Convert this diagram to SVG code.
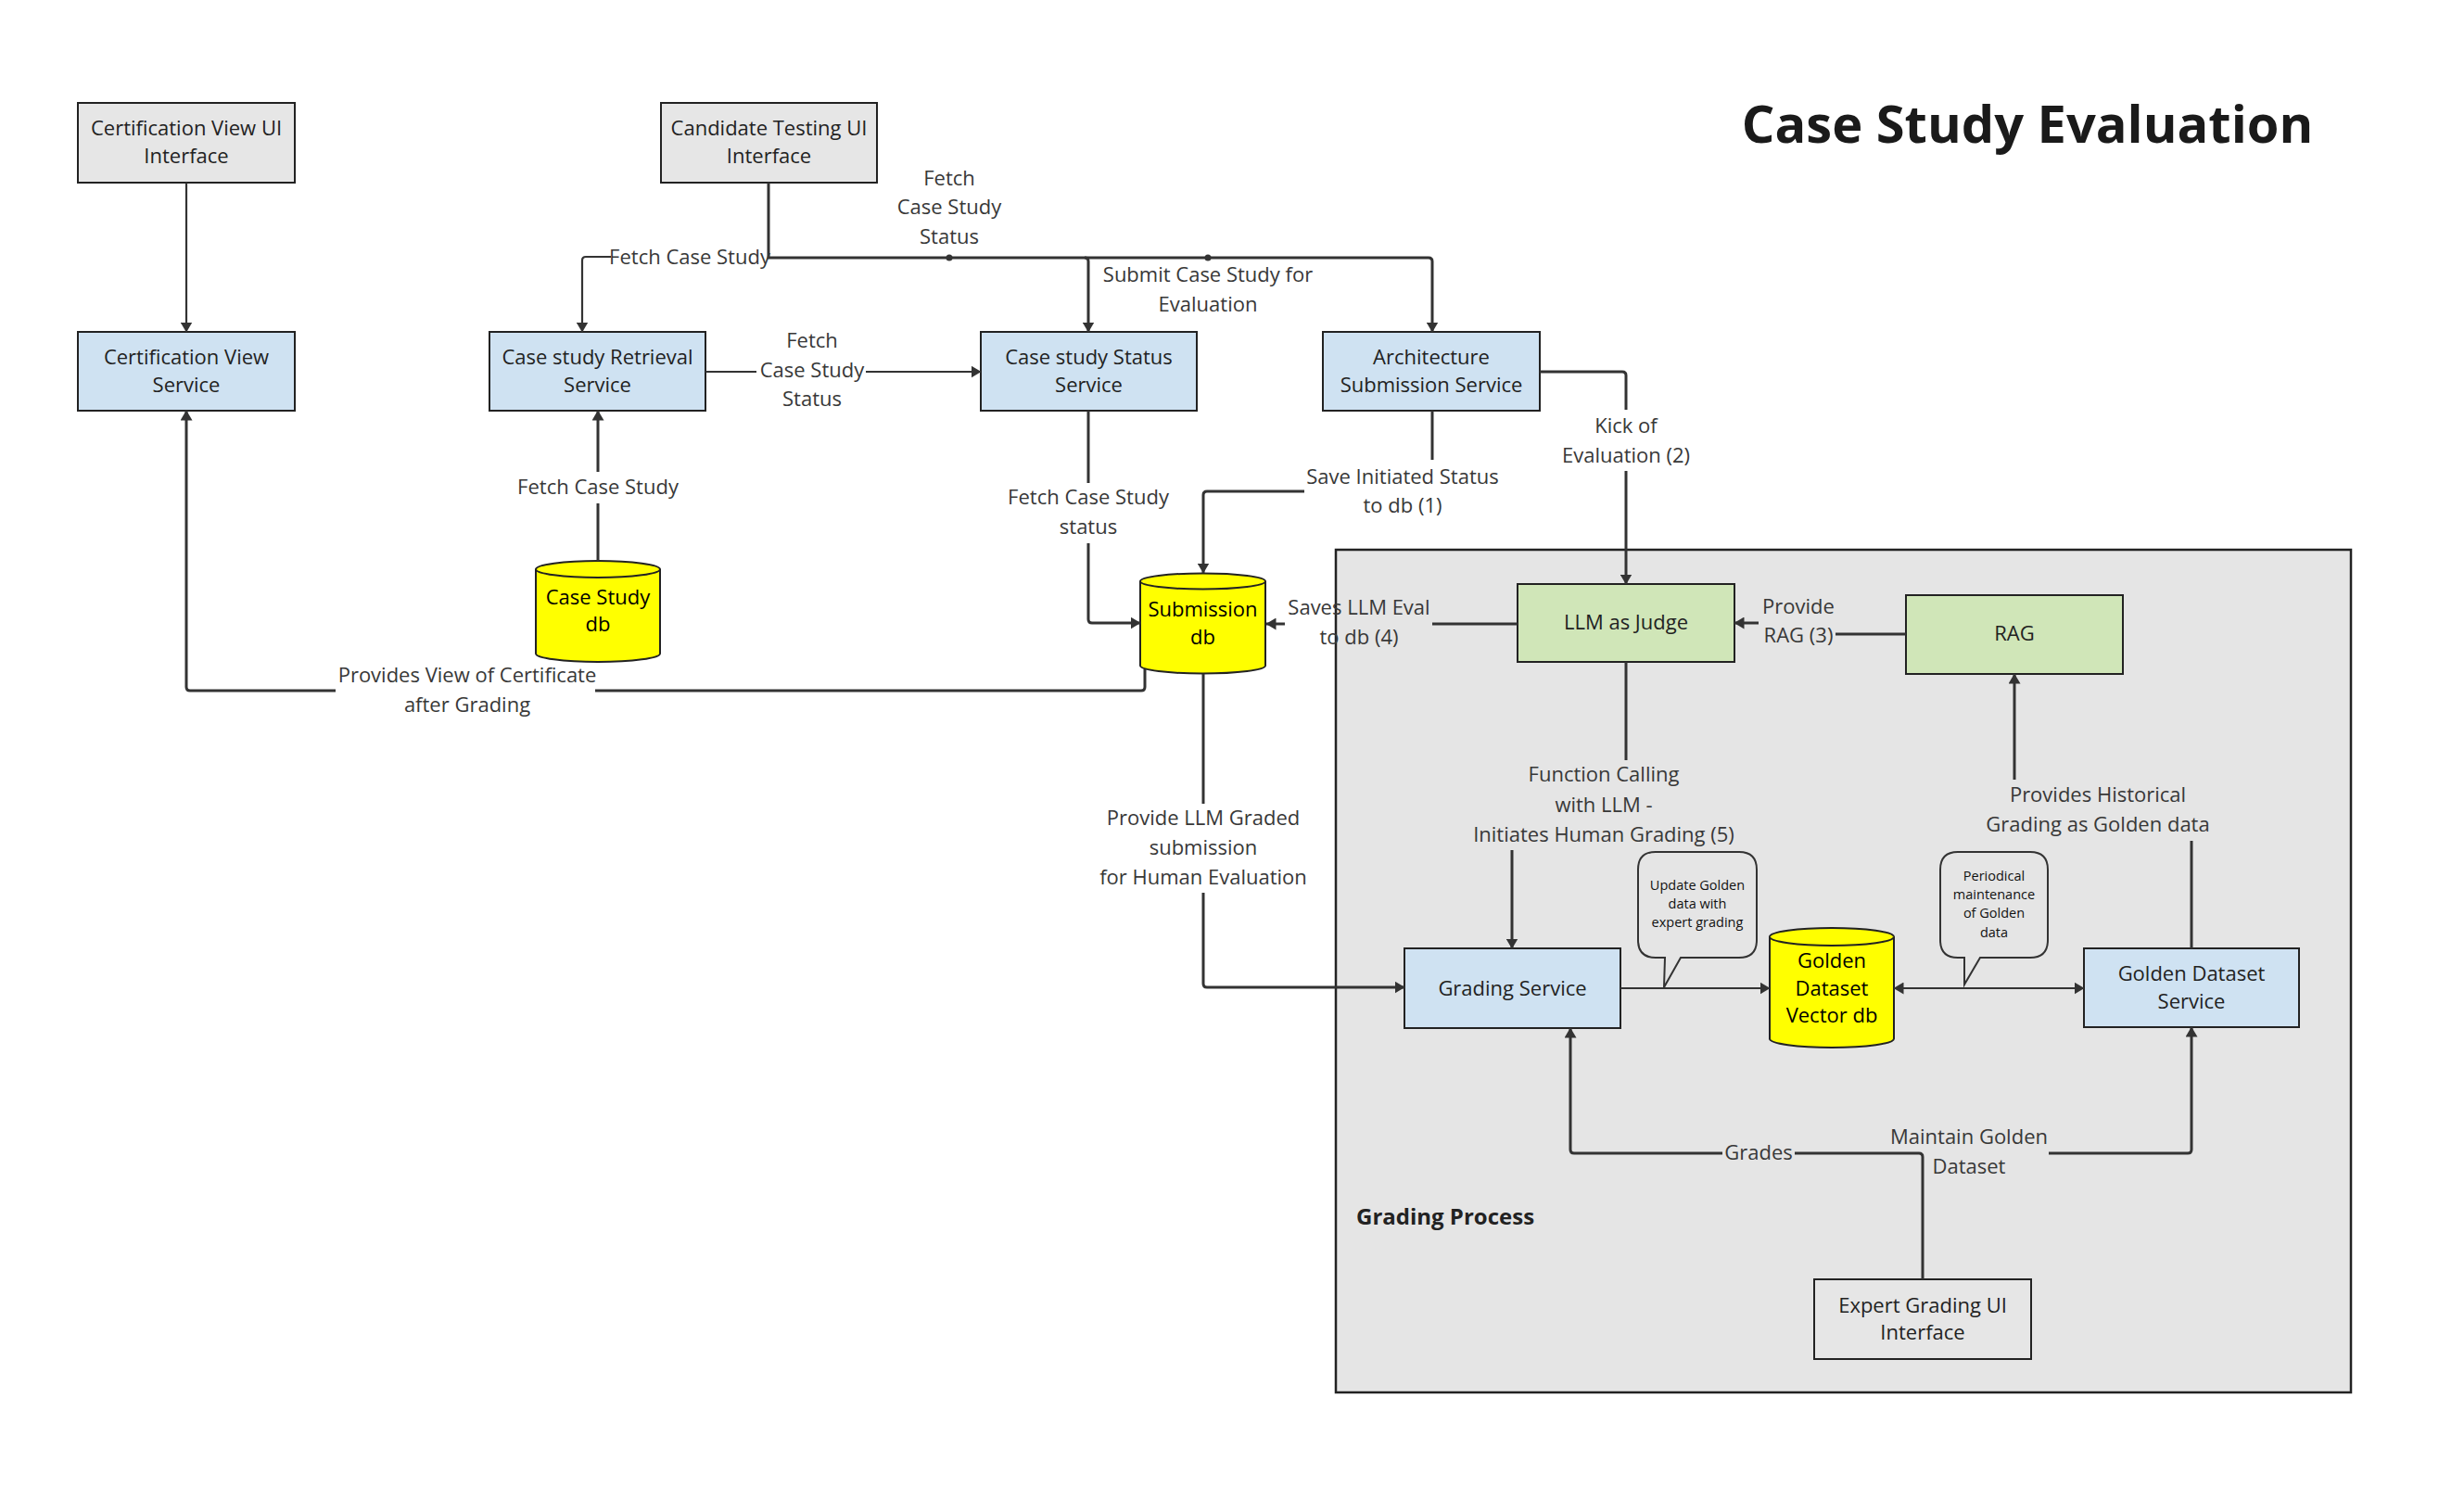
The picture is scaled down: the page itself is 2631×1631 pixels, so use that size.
<svg xmlns="http://www.w3.org/2000/svg" width="2631" height="1631" viewBox="0 0 2631 1631">
<style>
.bg{fill:#ffffff}
.box{stroke:#222;stroke-width:2}
.ui{fill:#e6e6e6}
.svc{fill:#cfe2f2}
.grn{fill:#d0e6b8}
.db{fill:#ffff00;stroke:#222;stroke-width:2}
.grp{fill:#e5e5e5;stroke:#222;stroke-width:2.5}
.call{fill:#e5e5e5;stroke:#333;stroke-width:2}
.nt{font-family:"Open Sans","Liberation Sans",sans-serif;font-size:22px;fill:#222;text-anchor:middle}
.dt{font-family:"Open Sans","Liberation Sans",sans-serif;font-size:22px;fill:#000;text-anchor:middle}
.lb{font-family:"Open Sans","Liberation Sans",sans-serif;font-size:22px;fill:#383838;text-anchor:middle}
.ct{font-family:"Open Sans","Liberation Sans",sans-serif;font-size:14.5px;fill:#111;text-anchor:middle}
.ttl{font-family:"Open Sans","Liberation Sans",sans-serif;font-size:56px;font-weight:bold;fill:#1a1a1a;text-anchor:middle}
.gp{font-family:"Open Sans","Liberation Sans",sans-serif;font-size:24px;font-weight:bold;fill:#222}
.c{fill:none;stroke:#333;stroke-width:3}
.t{fill:none;stroke:#333;stroke-width:2.2}
.a{marker-end:url(#ah)}
</style>
<defs>
<marker id="ah" viewBox="0 0 11 13" refX="10.5" refY="6.5" markerWidth="11" markerHeight="13" markerUnits="userSpaceOnUse" orient="auto-start-reverse">
<path d="M0,0 L11,6.5 L0,13 z" fill="#333"/>
</marker>
</defs>
<rect class="bg" x="0" y="0" width="2631" height="1631"/>

<text class="ttl" x="2187" y="154">Case Study Evaluation</text>

<g id="grading-process">
<rect class="grp" x="1441" y="593" width="1095" height="909"/>
<text class="gp" x="1463" y="1321">Grading Process</text>
</g>

<g id="cert-ui">
<rect class="box ui" x="84" y="111" width="234" height="86"/>
<text class="nt" x="201" y="146">Certification View UI</text>
<text class="nt" x="201" y="176">Interface</text>
</g>
<g id="candidate-ui">
<rect class="box ui" x="713" y="111" width="233" height="86"/>
<text class="nt" x="829.5" y="146">Candidate Testing UI</text>
<text class="nt" x="829.5" y="176">Interface</text>
</g>
<g id="cert-service">
<rect class="box svc" x="84" y="358" width="234" height="85"/>
<text class="nt" x="201" y="393">Certification View</text>
<text class="nt" x="201" y="423">Service</text>
</g>
<g id="retrieval-service">
<rect class="box svc" x="528" y="358" width="233" height="85"/>
<text class="nt" x="644.5" y="393">Case study Retrieval</text>
<text class="nt" x="644.5" y="423">Service</text>
</g>
<g id="status-service">
<rect class="box svc" x="1058" y="358" width="233" height="85"/>
<text class="nt" x="1174.5" y="393">Case study Status</text>
<text class="nt" x="1174.5" y="423">Service</text>
</g>
<g id="architecture-service">
<rect class="box svc" x="1427" y="358" width="234" height="85"/>
<text class="nt" x="1544" y="393">Architecture</text>
<text class="nt" x="1544" y="423">Submission Service</text>
</g>
<g id="case-study-db">
<path class="db" d="M578,614 A67,9 0 0 1 712,614 V705 A67,9 0 0 1 578,705 Z"/>
<path class="db" d="M578,614 A67,9 0 0 0 712,614" fill="none"/>
<text class="dt" x="645" y="652">Case Study</text>
<text class="dt" x="645" y="681">db</text>
</g>
<g id="submission-db">
<path class="db" d="M1230,627 A67.5,8.5 0 0 1 1365,627 V718 A67.5,8.5 0 0 1 1230,718 Z"/>
<path class="db" d="M1230,627 A67.5,8.5 0 0 0 1365,627" fill="none"/>
<text class="dt" x="1297.5" y="665">Submission</text>
<text class="dt" x="1297.5" y="695">db</text>
</g>
<g id="llm-judge">
<rect class="box grn" x="1637" y="630" width="234" height="84"/>
<text class="nt" x="1754" y="679">LLM as Judge</text>
</g>
<g id="rag">
<rect class="box grn" x="2056" y="642" width="234" height="85"/>
<text class="nt" x="2173" y="691">RAG</text>
</g>
<g id="grading-service">
<rect class="box svc" x="1515" y="1023" width="233" height="86"/>
<text class="nt" x="1631.5" y="1074">Grading Service</text>
</g>
<g id="golden-db">
<path class="db" d="M1909,1010.5 A67,9.5 0 0 1 2043,1010.5 V1120.5 A67,9.5 0 0 1 1909,1120.5 Z"/>
<path class="db" d="M1909,1010.5 A67,9.5 0 0 0 2043,1010.5" fill="none"/>
<text class="dt" x="1976" y="1044">Golden</text>
<text class="dt" x="1976" y="1074">Dataset</text>
<text class="dt" x="1976" y="1103">Vector db</text>
</g>
<g id="golden-service">
<rect class="box svc" x="2248" y="1023" width="232" height="85"/>
<text class="nt" x="2364" y="1058">Golden Dataset</text>
<text class="nt" x="2364" y="1088">Service</text>
</g>
<g id="expert-ui">
<rect class="box ui" x="1957" y="1380" width="234" height="86"/>
<text class="nt" x="2074" y="1416">Expert Grading UI</text>
<text class="nt" x="2074" y="1445">Interface</text>
</g>
<g id="callout-update">
<path class="call" d="M1786,919 H1876 Q1895,919 1895,938 V1014 Q1895,1033 1876,1033 H1813 L1795,1065 L1796,1033 H1786 Q1767,1033 1767,1014 V938 Q1767,919 1786,919 Z"/>
<text class="ct" x="1831" y="960">Update Golden</text>
<text class="ct" x="1831" y="980">data with</text>
<text class="ct" x="1831" y="1000">expert grading</text>
</g>
<g id="callout-periodical">
<path class="call" d="M2112,919 H2190 Q2209,919 2209,938 V1014 Q2209,1033 2190,1033 H2136 L2119,1062 L2119,1033 H2112 Q2093,1033 2093,1014 V938 Q2093,919 2112,919 Z"/>
<text class="ct" x="2151" y="950">Periodical</text>
<text class="ct" x="2151" y="970">maintenance</text>
<text class="ct" x="2151" y="990">of Golden</text>
<text class="ct" x="2151" y="1011">data</text>
</g>

<g id="connectors">
<path class="t a" d="M201,197 V358"/>
<path class="c a" d="M829,197 V278 H1541 Q1545,278 1545,282 V358"/>
<path class="c a" d="M1170,278 Q1174,278 1174,282 V358"/>
<path class="t a" d="M659,277 H632 Q628,277 628,281 V358"/>
<circle cx="1024" cy="278" r="3.5" fill="#333"/>
<circle cx="1303" cy="278" r="3.5" fill="#333"/>
<path class="t" d="M761,401 H816"/>
<path class="t a" d="M934,401 H1058"/>
<path class="c" d="M645,605 V543"/>
<path class="c a" d="M645,509 V443"/>
<path class="c" d="M1174,443 V521"/>
<path class="c a" d="M1174,586 V668 Q1174,672 1178,672 H1230"/>
<path class="c" d="M1545,443 V496"/>
<path class="c a" d="M1407,530 H1302 Q1298,530 1298,534 V618"/>
<path class="c" d="M1661,401 H1750 Q1754,401 1754,405 V442"/>
<path class="c a" d="M1754,508 V630"/>
<path class="c" d="M1637,673 H1545"/>
<path class="c a" d="M1386,673 H1366"/>
<path class="c" d="M2056,684 H1980"/>
<path class="c a" d="M1897,672 H1871"/>
<path class="c" d="M1298,727 V867"/>
<path class="c a" d="M1298,963 V1061 Q1298,1065 1302,1065 H1515"/>
<path class="c" d="M1754,714 V820"/>
<path class="c a" d="M1631,917 V1023"/>
<path class="t a" d="M1748,1066 H1909"/>
<path class="t a" d="M2043,1066 H2248" marker-start="url(#ah)"/>
<path class="c" d="M2364,1023 V907"/>
<path class="c a" d="M2173,841 V727"/>
<path class="c" d="M2074,1380 V1248 Q2074,1244 2070,1244 H1936"/>
<path class="c a" d="M1858,1244 H1698 Q1694,1244 1694,1240 V1109"/>
<path class="c a" d="M2210,1244 H2360 Q2364,1244 2364,1240 V1108"/>
<path class="c" d="M1235,722 V741 Q1235,745 1231,745 H642"/>
<path class="c a" d="M362,745 H205 Q201,745 201,741 V443"/>
</g>

<g id="labels">
<text class="lb" x="744" y="285">Fetch Case Study</text>
<text class="lb" x="1024" y="200">Fetch</text>
<text class="lb" x="1024" y="231">Case Study</text>
<text class="lb" x="1024" y="263">Status</text>
<text class="lb" x="1303" y="304">Submit Case Study for</text>
<text class="lb" x="1303" y="336">Evaluation</text>
<text class="lb" x="876" y="375">Fetch</text>
<text class="lb" x="876" y="407">Case Study</text>
<text class="lb" x="876" y="438">Status</text>
<text class="lb" x="645" y="533">Fetch Case Study</text>
<text class="lb" x="1174" y="544">Fetch Case Study</text>
<text class="lb" x="1174" y="576">status</text>
<text class="lb" x="1513" y="522">Save Initiated Status</text>
<text class="lb" x="1513" y="553">to db (1)</text>
<text class="lb" x="1754" y="467">Kick of</text>
<text class="lb" x="1754" y="499">Evaluation (2)</text>
<text class="lb" x="1466" y="663">Saves LLM Eval</text>
<text class="lb" x="1466" y="695">to db (4)</text>
<text class="lb" x="1940" y="662">Provide</text>
<text class="lb" x="1940" y="693">RAG (3)</text>
<text class="lb" x="504" y="736">Provides View of Certificate</text>
<text class="lb" x="504" y="768">after Grading</text>
<text class="lb" x="1298" y="890">Provide LLM Graded</text>
<text class="lb" x="1298" y="922">submission</text>
<text class="lb" x="1298" y="954">for Human Evaluation</text>
<text class="lb" x="1730" y="843">Function Calling</text>
<text class="lb" x="1730" y="876">with LLM -</text>
<text class="lb" x="1730" y="908">Initiates Human Grading (5)</text>
<text class="lb" x="2263" y="865">Provides Historical</text>
<text class="lb" x="2263" y="897">Grading as Golden data</text>
<text class="lb" x="1897" y="1251">Grades</text>
<text class="lb" x="2124" y="1234">Maintain Golden</text>
<text class="lb" x="2124" y="1266">Dataset</text>
</g>
</svg>
